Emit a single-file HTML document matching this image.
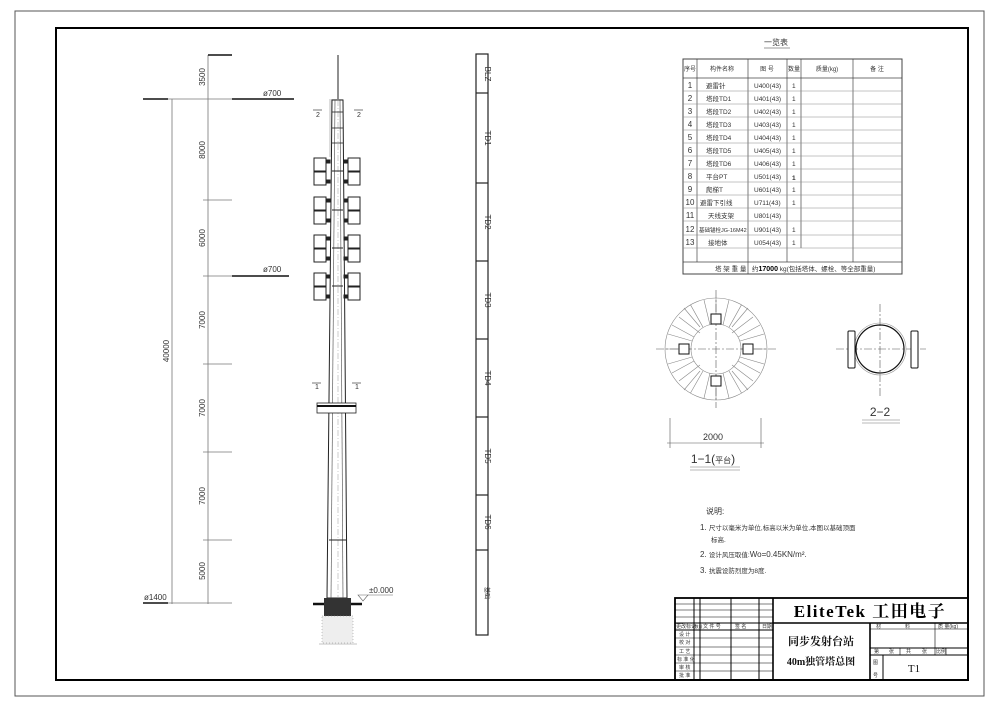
<!DOCTYPE html>
<html><head><meta charset="utf-8"><style>
html,body{margin:0;padding:0;background:#fff}
svg{display:block}
text{font-family:"Liberation Sans","Noto Sans CJK SC",sans-serif;fill:#333}
</style></head><body>
<svg width="1000" height="707" viewBox="0 0 1000 707" xmlns="http://www.w3.org/2000/svg">
<rect x="15" y="11" width="969" height="685" fill="none" stroke="#555" stroke-width="1"/>
<rect x="56" y="28" width="912" height="652" fill="none" stroke="#000" stroke-width="2"/>

<!-- dimension column -->
<g stroke="#777" stroke-width="0.8">
<line x1="208" y1="55" x2="208" y2="604"/>
<line x1="172" y1="99" x2="172" y2="604"/>
<line x1="168" y1="99" x2="294" y2="99"/>
<line x1="203" y1="200" x2="232" y2="200"/>
<line x1="203" y1="276" x2="232" y2="276"/>
<line x1="203" y1="364" x2="232" y2="364"/>
<line x1="203" y1="452" x2="232" y2="452"/>
<line x1="203" y1="540" x2="232" y2="540"/>
<line x1="168" y1="603" x2="232" y2="603"/>
</g>
<g stroke="#111" stroke-width="1.6">
<line x1="208" y1="55" x2="232" y2="55"/>
<line x1="143" y1="99" x2="168" y2="99"/>
<line x1="232" y1="99" x2="294" y2="99"/>
<line x1="232" y1="276" x2="289" y2="276"/>
<line x1="143" y1="603" x2="168" y2="603"/>
</g>
<g font-size="8" fill="#666">
<text x="263" y="96">ø700</text>
<text x="263" y="272">ø700</text>
<text x="144" y="600">ø1400</text>
<text transform="translate(205,77) rotate(-90)" text-anchor="middle">3500</text>
<text transform="translate(205,150) rotate(-90)" text-anchor="middle">8000</text>
<text transform="translate(205,238) rotate(-90)" text-anchor="middle">6000</text>
<text transform="translate(205,320) rotate(-90)" text-anchor="middle">7000</text>
<text transform="translate(205,408) rotate(-90)" text-anchor="middle">7000</text>
<text transform="translate(205,496) rotate(-90)" text-anchor="middle">7000</text>
<text transform="translate(205,571) rotate(-90)" text-anchor="middle">5000</text>
<text transform="translate(169,351) rotate(-90)" text-anchor="middle">40000</text>
</g>

<!-- tower -->
<line x1="338" y1="55" x2="338" y2="100" stroke="#222" stroke-width="1"/>
<rect x="329" y="99" width="14" height="58" fill="#ddd" stroke="none"/>
<polygon points="332,100 343,100 347,598 327,598" fill="#fff" stroke="#222" stroke-width="1"/>
<line x1="335" y1="100" x2="331" y2="598" stroke="#444" stroke-width="0.6"/>
<line x1="340" y1="100" x2="343" y2="598" stroke="#444" stroke-width="0.6"/>
<line x1="338" y1="100" x2="338" y2="598" stroke="#999" stroke-width="0.5" stroke-dasharray="6,2,1,2"/>
<g stroke="#222" stroke-width="0.8">
<line x1="332" y1="112" x2="343" y2="112"/><line x1="332" y1="128" x2="343" y2="128"/><line x1="332" y1="143" x2="343" y2="143"/>
</g>
<g fill="#fff" stroke="#222" stroke-width="1">
<g id="row">
<rect x="314" y="158" width="12" height="13"/><rect x="314" y="172" width="12" height="13"/>
<rect x="348" y="158" width="12" height="13"/><rect x="348" y="172" width="12" height="13"/>
<rect x="326" y="160" width="4" height="3" fill="#222"/><rect x="326" y="180" width="4" height="3" fill="#222"/>
<rect x="344" y="160" width="4" height="3" fill="#222"/><rect x="344" y="180" width="4" height="3" fill="#222"/>
<line x1="332" y1="171" x2="343" y2="171"/>
</g>
<use href="#row" y="39"/><use href="#row" y="77"/><use href="#row" y="115"/>
</g>
<g font-size="7" fill="#777">
<text x="316" y="117">2</text><text x="357" y="117">2</text>
<line x1="313" y1="110" x2="322" y2="110" stroke="#777"/><line x1="354" y1="110" x2="363" y2="110" stroke="#777"/>
<text x="315" y="389">1</text><text x="355" y="389">1</text>
<line x1="312" y1="383" x2="321" y2="383" stroke="#777"/><line x1="352" y1="383" x2="361" y2="383" stroke="#777"/>
</g>
<rect x="317" y="403" width="39" height="10" fill="#fff" stroke="#222" stroke-width="0.8"/>
<line x1="317" y1="406" x2="356" y2="406" stroke="#111" stroke-width="2"/>
<line x1="329" y1="540" x2="346" y2="540" stroke="#222" stroke-width="1"/>
<!-- foundation -->
<rect x="324" y="598" width="27" height="20" fill="#333"/>
<rect x="322" y="616" width="31" height="27" fill="#eee" stroke="#888" stroke-width="0.5" stroke-dasharray="1,2"/>
<line x1="313" y1="604" x2="324" y2="604" stroke="#111" stroke-width="2.5"/>
<line x1="351" y1="604" x2="362" y2="604" stroke="#111" stroke-width="2.5"/>
<line x1="319" y1="644" x2="357" y2="644" stroke="#888" stroke-width="0.6"/>
<polygon points="358,595 368,595 363,601" fill="none" stroke="#666" stroke-width="0.6"/>
<line x1="368" y1="595" x2="393" y2="595" stroke="#666" stroke-width="0.6"/>
<text x="369" y="593" font-size="8" fill="#666">±0.000</text>

<!-- section strip -->
<g fill="none" stroke="#222" stroke-width="1.2">
<rect x="476" y="54" width="12" height="581"/>
<line x1="476" y1="93" x2="488" y2="93"/><line x1="476" y1="183" x2="488" y2="183"/>
<line x1="476" y1="261" x2="488" y2="261"/><line x1="476" y1="339" x2="488" y2="339"/>
<line x1="476" y1="417" x2="488" y2="417"/><line x1="476" y1="495" x2="488" y2="495"/>
<line x1="476" y1="550" x2="488" y2="550"/>
</g>
<g font-size="8" fill="#777">
<text transform="translate(485,74) rotate(90)" text-anchor="middle">BLZ</text>
<text transform="translate(485,138) rotate(90)" text-anchor="middle">TD1</text>
<text transform="translate(485,222) rotate(90)" text-anchor="middle">TD2</text>
<text transform="translate(485,300) rotate(90)" text-anchor="middle">TD3</text>
<text transform="translate(485,378) rotate(90)" text-anchor="middle">TD4</text>
<text transform="translate(485,456) rotate(90)" text-anchor="middle">TD5</text>
<text transform="translate(485,522) rotate(90)" text-anchor="middle">TD6</text>
<text transform="translate(485,593) rotate(90)" text-anchor="middle" font-size="6">基础</text>
</g>

<!-- table -->
<text x="776" y="45" font-size="8" text-anchor="middle" fill="#444">一览表</text>
<line x1="764" y1="48" x2="790" y2="48" stroke="#999" stroke-width="1"/>
<g fill="none" stroke="#444" stroke-width="0.7">
<rect x="683" y="59" width="219" height="215" stroke-width="1"/>
<line x1="683" y1="78" x2="902" y2="78"/>
<line x1="697" y1="59" x2="697" y2="262"/>
<line x1="748" y1="59" x2="748" y2="274"/>
<line x1="787" y1="59" x2="787" y2="262"/>
<line x1="801" y1="59" x2="801" y2="248"/>
<line x1="853" y1="59" x2="853" y2="262"/>
<line x1="683" y1="262" x2="902" y2="262"/>
</g>
<g stroke="#888" stroke-width="0.5">
<line x1="683" y1="91" x2="902" y2="91"/><line x1="683" y1="104" x2="902" y2="104"/><line x1="683" y1="117" x2="902" y2="117"/>
<line x1="683" y1="130" x2="902" y2="130"/><line x1="683" y1="143" x2="902" y2="143"/><line x1="683" y1="156" x2="902" y2="156"/>
<line x1="683" y1="169" x2="902" y2="169"/><line x1="683" y1="182" x2="902" y2="182"/><line x1="683" y1="195" x2="902" y2="195"/>
<line x1="683" y1="208" x2="902" y2="208"/><line x1="683" y1="221" x2="902" y2="221"/><line x1="683" y1="235" x2="902" y2="235"/>
<line x1="683" y1="248" x2="902" y2="248"/>
</g>
<g font-size="6" fill="#444">
<text x="690" y="71" text-anchor="middle">序号</text><text x="722" y="71" text-anchor="middle">构件名称</text>
<text x="767" y="71" text-anchor="middle">图 号</text><text x="794" y="71" text-anchor="middle">数量</text>
<text x="827" y="71" text-anchor="middle">质量(kg)</text><text x="877" y="71" text-anchor="middle">备 注</text>
</g>
<g font-size="8" fill="#555">
<text x="690" y="88" text-anchor="middle">1</text><text x="690" y="101" text-anchor="middle">2</text><text x="690" y="114" text-anchor="middle">3</text>
<text x="690" y="127" text-anchor="middle">4</text><text x="690" y="140" text-anchor="middle">5</text><text x="690" y="153" text-anchor="middle">6</text>
<text x="690" y="166" text-anchor="middle">7</text><text x="690" y="179" text-anchor="middle">8</text><text x="690" y="192" text-anchor="middle">9</text>
<text x="690" y="205" text-anchor="middle">10</text><text x="690" y="218" text-anchor="middle">11</text><text x="690" y="232" text-anchor="middle">12</text>
<text x="690" y="245" text-anchor="middle">13</text>
</g>
<g font-size="6.5" fill="#555">
<text x="706" y="88">避雷针</text><text x="706" y="101">塔段TD1</text><text x="706" y="114">塔段TD2</text>
<text x="706" y="127">塔段TD3</text><text x="706" y="140">塔段TD4</text><text x="706" y="153">塔段TD5</text>
<text x="706" y="166">塔段TD6</text><text x="706" y="179">平台PT</text><text x="706" y="192">爬梯T</text>
<text x="700" y="205">避雷下引线</text><text x="708" y="218">天线支架</text><text x="699" y="232" font-size="5.5">基础锚栓JG-16M42</text>
<text x="708" y="245">接地体</text>
<text x="754" y="88">U400(43)</text><text x="754" y="101">U401(43)</text><text x="754" y="114">U402(43)</text>
<text x="754" y="127">U403(43)</text><text x="754" y="140">U404(43)</text><text x="754" y="153">U405(43)</text>
<text x="754" y="166">U406(43)</text><text x="754" y="179">U501(43)</text><text x="754" y="192">U601(43)</text>
<text x="754" y="205">U711(43)</text><text x="754" y="218">U801(43)</text><text x="754" y="232">U901(43)</text>
<text x="754" y="245">U054(43)</text>
<text x="792" y="88">1</text><text x="792" y="101">1</text><text x="792" y="114">1</text><text x="792" y="127">1</text>
<text x="792" y="140">1</text><text x="792" y="153">1</text><text x="792" y="166">1</text>
<text x="792" y="180" font-weight="bold" fill="#000">1</text><text x="792" y="192">1</text><text x="792" y="205">1</text>
<text x="792" y="232">1</text><text x="792" y="245">1</text>
<text x="715" y="271">塔 架 重 量</text>
<text x="752" y="271">约<tspan font-weight="bold" fill="#000" font-size="7">17000</tspan> kg(包括塔体、螺栓、等全部重量)</text>
</g>

<!-- section 1-1 -->
<g fill="none" stroke="#888" stroke-width="0.6">
<circle cx="716" cy="349" r="51"/><circle cx="716" cy="349" r="25"/>
<path d="M716,298v26M716,374v26M665,349h26M741,349h26
M741.5,304.8l-12.5,22.4M753,317l-21,16M764,334l-24,7M764,364l-24,-7M753,381l-21,-16M741.5,393l-12.5,-22
M690.5,304.8l12.5,22.4M679,317l21,16M668,334l24,7M668,364l24,-7M679,381l21,-16M690.5,393l12.5,-22
M729,300l-6,25M704,300l6,25M729,398l-6,-25M704,398l6,-25
M760,325l-22,12M760,373l-22,-12M672,325l22,12M672,373l22,-12
M748,308l-16,19M684,308l16,19M748,390l-16,-19M684,390l16,-19"/>
</g>
<g stroke="#555" stroke-width="0.6" stroke-dasharray="8,2,2,2">
<line x1="656" y1="349" x2="776" y2="349"/><line x1="716" y1="290" x2="716" y2="408"/>
<line x1="836" y1="349" x2="926" y2="349"/><line x1="880" y1="304" x2="880" y2="396"/>
</g>
<g fill="#fff" stroke="#111" stroke-width="1">
<rect x="711" y="314" width="10" height="10"/><rect x="711" y="376" width="10" height="10"/>
<rect x="679" y="344" width="10" height="10"/><rect x="743" y="344" width="10" height="10"/>
</g>
<g stroke="#555" stroke-width="0.6">
<line x1="670" y1="418" x2="670" y2="448"/><line x1="761" y1="418" x2="761" y2="448"/>
<line x1="667" y1="443" x2="764" y2="443"/>
</g>
<text x="713" y="440" font-size="9" text-anchor="middle" fill="#555">2000</text>
<text x="713" y="463" font-size="12" text-anchor="middle" fill="#555">1−1(<tspan font-size="8">平台</tspan>)</text>
<line x1="690" y1="467" x2="740" y2="467" stroke="#777" stroke-width="0.6"/>
<line x1="690" y1="470" x2="740" y2="470" stroke="#777" stroke-width="0.6"/>

<!-- section 2-2 -->
<circle cx="880" cy="349" r="26" fill="none" stroke="#999" stroke-width="0.6"/>
<circle cx="880" cy="349" r="24" fill="none" stroke="#111" stroke-width="1.2"/>
<rect x="848" y="331" width="7" height="37" rx="1" fill="#fff" stroke="#111" stroke-width="1"/>
<rect x="911" y="331" width="7" height="37" rx="1" fill="#fff" stroke="#111" stroke-width="1"/>
<text x="880" y="416" font-size="12" text-anchor="middle" fill="#555">2−2</text>
<line x1="862" y1="420" x2="900" y2="420" stroke="#777" stroke-width="0.6"/>
<line x1="862" y1="423" x2="900" y2="423" stroke="#777" stroke-width="0.6"/>

<!-- notes -->
<g font-size="8" fill="#555">
<text x="706" y="514">说明:</text>
<text x="700" y="530">1. <tspan font-size="6.5">尺寸以毫米为单位,标高以米为单位,本图以基础顶面</tspan></text>
<text x="711" y="542" font-size="6.5">标高.</text>
<text x="700" y="557">2. <tspan font-size="6.5">设计风压取值:</tspan>Wo=0.45KN/m².</text>
<text x="700" y="573">3. <tspan font-size="6.5">抗震设防烈度为8度.</tspan></text>
</g>

<!-- title block -->
<g fill="none" stroke="#000" stroke-width="1">
<rect x="675" y="598" width="293" height="82" stroke-width="1.8"/>
<line x1="773" y1="598" x2="773" y2="680" stroke-width="1.6"/>
<line x1="773" y1="623" x2="968" y2="623" stroke-width="1.6"/>
<line x1="870" y1="623" x2="870" y2="680" stroke-width="1.6"/>
<line x1="694" y1="598" x2="694" y2="680"/><line x1="700" y1="598" x2="700" y2="680"/>
<line x1="731" y1="598" x2="731" y2="680"/><line x1="759" y1="598" x2="759" y2="680"/>
<line x1="675" y1="604" x2="773" y2="604" stroke-width="0.6"/><line x1="675" y1="610" x2="773" y2="610" stroke-width="0.6"/>
<line x1="675" y1="617" x2="773" y2="617" stroke-width="0.6"/>
<line x1="675" y1="623" x2="773" y2="623"/><line x1="675" y1="630" x2="773" y2="630"/>
<line x1="675" y1="638" x2="773" y2="638" stroke-width="0.6"/><line x1="675" y1="647" x2="773" y2="647" stroke-width="0.6"/>
<line x1="675" y1="655" x2="773" y2="655" stroke-width="0.6"/><line x1="675" y1="663" x2="773" y2="663" stroke-width="0.6"/>
<line x1="675" y1="671" x2="773" y2="671" stroke-width="0.6"/>
<line x1="870" y1="629" x2="968" y2="629" stroke-width="0.6"/>
<line x1="870" y1="648" x2="968" y2="648"/><line x1="870" y1="655" x2="968" y2="655"/>
<line x1="935" y1="623" x2="935" y2="648" stroke-width="0.6"/>
<line x1="883" y1="655" x2="883" y2="680"/>
<line x1="900" y1="648" x2="900" y2="655" stroke-width="0.6"/><line x1="935" y1="648" x2="935" y2="655" stroke-width="0.6"/>
<line x1="946" y1="648" x2="946" y2="655" stroke-width="0.6"/>
</g>
<g font-size="5" fill="#000">
<text x="676" y="628">更改标记</text><text x="694.5" y="628" font-size="4">数量</text><text x="703" y="628">文 件 号</text><text x="735" y="628">签 名</text><text x="762" y="628">日期</text>
<text x="679" y="636">设 计</text><text x="679" y="644">校 对</text><text x="679" y="653">工 艺</text>
<text x="677" y="661">标 准 化</text><text x="679" y="669">审 核</text><text x="679" y="677">批 准</text>
<text x="876" y="628">材</text><text x="905" y="628">料</text><text x="938" y="628">质 量(kg)</text>
<text x="874" y="653">第</text><text x="889" y="653">张</text><text x="906" y="653">共</text><text x="922" y="653">张</text><text x="936" y="653">比例</text>
<text x="873" y="664">图</text><text x="873" y="677">号</text>
</g>
<text x="870" y="617" font-size="17" font-weight="bold" text-anchor="middle" style="font-family:'Liberation Serif','Noto Serif CJK SC',serif;fill:#000" letter-spacing="1.5">EliteTek 工田电子</text>
<text x="821" y="645" font-size="11" font-weight="bold" text-anchor="middle" style="font-family:'Liberation Serif','Noto Serif CJK SC',serif;fill:#111">同步发射台站</text>
<text x="821" y="665" font-size="10" font-weight="bold" text-anchor="middle" style="font-family:'Liberation Serif','Noto Serif CJK SC',serif;fill:#111">40m独管塔总图</text>
<text x="914" y="672" font-size="11" text-anchor="middle" style="font-family:'Liberation Serif',serif;fill:#111">T1</text>
</svg>
</body></html>
